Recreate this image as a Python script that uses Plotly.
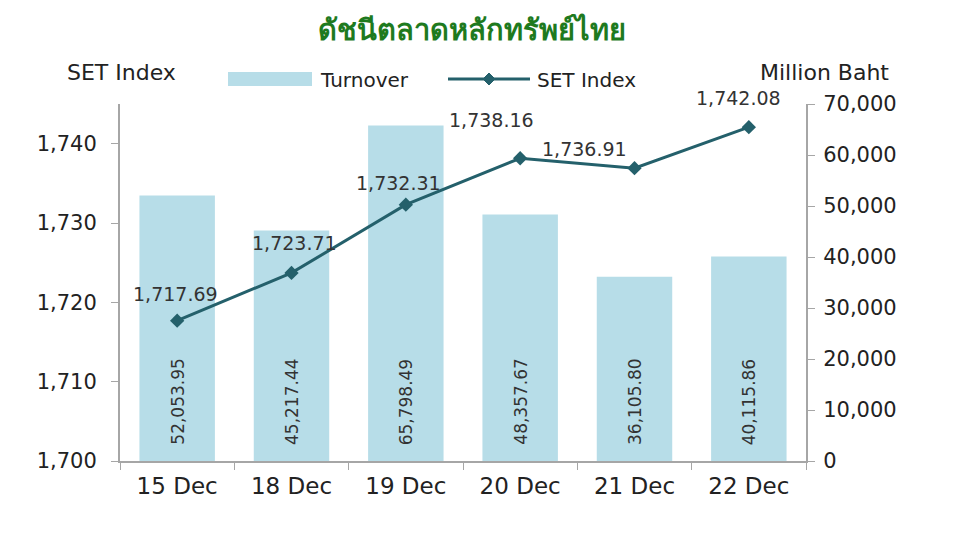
import plotly.graph_objects as go

categories = ["15 Dec", "18 Dec", "19 Dec", "20 Dec", "21 Dec", "22 Dec"]
turnover = [52053.95, 45217.44, 65798.49, 48357.67, 36105.80, 40115.86]
set_index = [1717.69, 1723.71, 1732.31, 1738.16, 1736.91, 1742.08]
left_ticks = [1700, 1710, 1720, 1730, 1740]
right_ticks = [0, 10000, 20000, 30000, 40000, 50000, 60000, 70000]

label_shift = [(-2, 27), (3, 30), (-7, 22), (-29, 38), (-50, 19), (-10, 29)]

OFF = 8  # page body margin
W, H = 952, 532
L, R, T, B = 112, 154, 96, 79
PW, PH = W - L - R, H - T - B


def px(x):
    return (x - OFF - L) / PW


def py(y):
    return (H - B - (y - OFF)) / PH


font_fam = "DejaVu Sans, sans-serif"
txt = "#222222"
bar_color = "#b7dde8"
line_color = "#24606b"
axis_color = "#a6a6a6"

fig = go.Figure()
fig.add_trace(go.Bar(
    x=categories, y=turnover, name="Turnover", yaxis="y",
    marker=dict(color=bar_color, line=dict(width=0)),
    showlegend=False,
))
fig.add_trace(go.Scatter(
    x=categories, y=set_index, name="SET Index", yaxis="y2",
    mode="lines+markers",
    line=dict(color=line_color, width=3),
    marker=dict(symbol="diamond", size=11, color=line_color),
    showlegend=False,
))

for c, v in zip(categories, turnover):
    fig.add_annotation(x=c, y=0, xref="x", yref="y", text=f"{v:,.2f}",
                       showarrow=False, textangle=-90, yanchor="bottom",
                       yshift=14,
                       font=dict(family=font_fam, size=17, color="#333333"))

for i, (c, v) in enumerate(zip(categories, set_index)):
    dx, dy = label_shift[i]
    fig.add_annotation(x=c, y=v, xref="x", yref="y2", text=f"{v:,.2f}",
                       showarrow=False, xshift=dx, yshift=dy,
                       font=dict(family=font_fam, size=19, color="#333333"))

tickfont = dict(family=font_fam, size=21, color=txt)
fig.update_layout(
    width=W, height=H,
    margin=dict(l=L, r=R, t=T, b=B),
    paper_bgcolor="white", plot_bgcolor="white",
    bargap=0.34,
    showlegend=False,
    title=dict(text="<b>ดัชนีตลาดหลักทรัพย์ไทย</b>", x=(472 - OFF) / W, xanchor="center",
               y=1 - (30 - OFF) / H, yanchor="middle",
               font=dict(family="Noto Sans, sans-serif", size=29, color="#1e7a1e")),
    xaxis=dict(
        type="category", showgrid=False, showline=True, linecolor=axis_color, linewidth=2,
        ticks="outside", tickson="boundaries", ticklen=7, tickcolor=axis_color,
        tickfont=dict(family=font_fam, size=23, color=txt), automargin=False,
        ticklabelstandoff=3,
    ),
    yaxis=dict(
        range=[0, 70000], tickvals=right_ticks,
        ticktext=[f"{v:,}" for v in right_ticks],
        side="right",
        showgrid=False, showline=True, linecolor=axis_color, linewidth=2,
        ticks="outside", ticklen=7, tickcolor=axis_color, zeroline=False,
        tickfont=tickfont, automargin=False, ticklabelstandoff=4,
    ),
    yaxis2=dict(
        range=[1700, 1745], tickvals=left_ticks,
        ticktext=[f"{v:,}" for v in left_ticks],
        overlaying="y", side="left",
        showgrid=False, showline=True, linecolor=axis_color, linewidth=2,
        ticks="outside", ticklen=7, tickcolor=axis_color, zeroline=False,
        tickfont=tickfont, automargin=False, ticklabelstandoff=10,
    ),
)

# axis titles
fig.add_annotation(text="SET Index", xref="paper", yref="paper", x=px(121), y=py(72),
                   xanchor="center", yanchor="middle", showarrow=False,
                   font=dict(family=font_fam, size=22, color=txt))
fig.add_annotation(text="Million Baht", xref="paper", yref="paper", x=px(824), y=py(72),
                   xanchor="center", yanchor="middle", showarrow=False,
                   font=dict(family=font_fam, size=22, color=txt))

# manual legend
fig.add_shape(type="rect", xref="paper", yref="paper",
              x0=px(228), x1=px(312), y0=py(86), y1=py(72),
              fillcolor=bar_color, line=dict(width=0))
fig.add_annotation(text="Turnover", xref="paper", yref="paper", x=px(318), y=py(80),
                   xanchor="left", yanchor="middle", showarrow=False,
                   font=dict(family=font_fam, size=20, color=txt))
fig.add_shape(type="line", xref="paper", yref="paper",
              x0=px(448), x1=px(530), y0=py(79), y1=py(79),
              line=dict(color=line_color, width=3))
cx, cy, d = 489, 79, 6
fig.add_shape(type="path", xref="paper", yref="paper",
              path=f"M {px(cx - d)} {py(cy)} L {px(cx)} {py(cy - d)} L {px(cx + d)} {py(cy)} L {px(cx)} {py(cy + d)} Z",
              fillcolor=line_color, line=dict(color=line_color, width=1))
fig.add_annotation(text="SET Index", xref="paper", yref="paper", x=px(535), y=py(80),
                   xanchor="left", yanchor="middle", showarrow=False,
                   font=dict(family=font_fam, size=20, color=txt))

fig.write_html("out.html")
